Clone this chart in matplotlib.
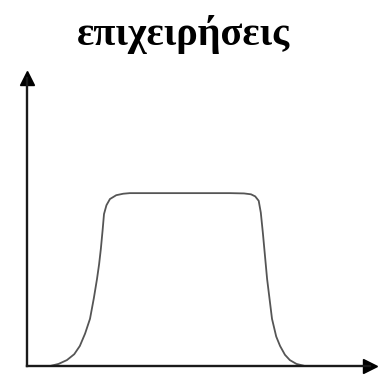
import matplotlib
matplotlib.use("Agg")
import matplotlib.pyplot as plt

title = "επιχειρήσεις"
# curve (x: time units 0-10, y: level 0-1)
curve_x = [0.66, 0.9, 1.14, 1.35, 1.51, 1.66, 1.8, 1.91, 2.0, 2.06, 2.11, 2.16, 2.2, 2.27, 2.37, 2.55,
           2.75, 2.94, 3.5, 4.23, 5.0, 5.8, 6.2, 6.4, 6.52, 6.62, 6.68, 6.74, 6.86, 7.0, 7.12, 7.23, 7.37,
           7.51, 7.7, 7.94]
curve_y = [0.0, 0.007, 0.02, 0.04, 0.068, 0.11, 0.16, 0.23, 0.295, 0.345, 0.397, 0.46, 0.515, 0.545,
           0.566, 0.579, 0.584, 0.586, 0.586, 0.586, 0.586, 0.586, 0.585, 0.582, 0.575, 0.56, 0.52, 0.45,
           0.295, 0.16, 0.1, 0.068, 0.038, 0.02, 0.007, 0.0]

W, H = 378, 376
fig = plt.figure(figsize=(W / 100, H / 100), dpi=100)
ox, oy, xe, ye = 27, 366, 370, 78
ax = fig.add_axes([ox / W, 1 - oy / H, (xe - ox) / W, (oy - ye) / H])
ax.set_xlim(0, (xe - ox) / 350 * 10)
ax.set_ylim(0, (oy - ye) / 295)
for s in ["top", "right"]:
    ax.spines[s].set_visible(False)
for s in ["left", "bottom"]:
    ax.spines[s].set_linewidth(1.7)
    ax.spines[s].set_color("#1a1a1a")
ax.set_xticks([])
ax.set_yticks([])
ax.plot(1, 0, ">", color="black", markersize=10, transform=ax.transAxes, clip_on=False)
ax.plot(0, 1, "^", color="black", markersize=10, transform=ax.transAxes, clip_on=False)
ax.plot(curve_x, curve_y, color="#555555", linewidth=1.3)

fig.text(183 / W, 1 - 45 / H, title, ha="center", va="baseline", fontsize=29,
         fontweight="bold", family=["Liberation Serif", "DejaVu Serif"])
fig.savefig("out.png", dpi=100)
